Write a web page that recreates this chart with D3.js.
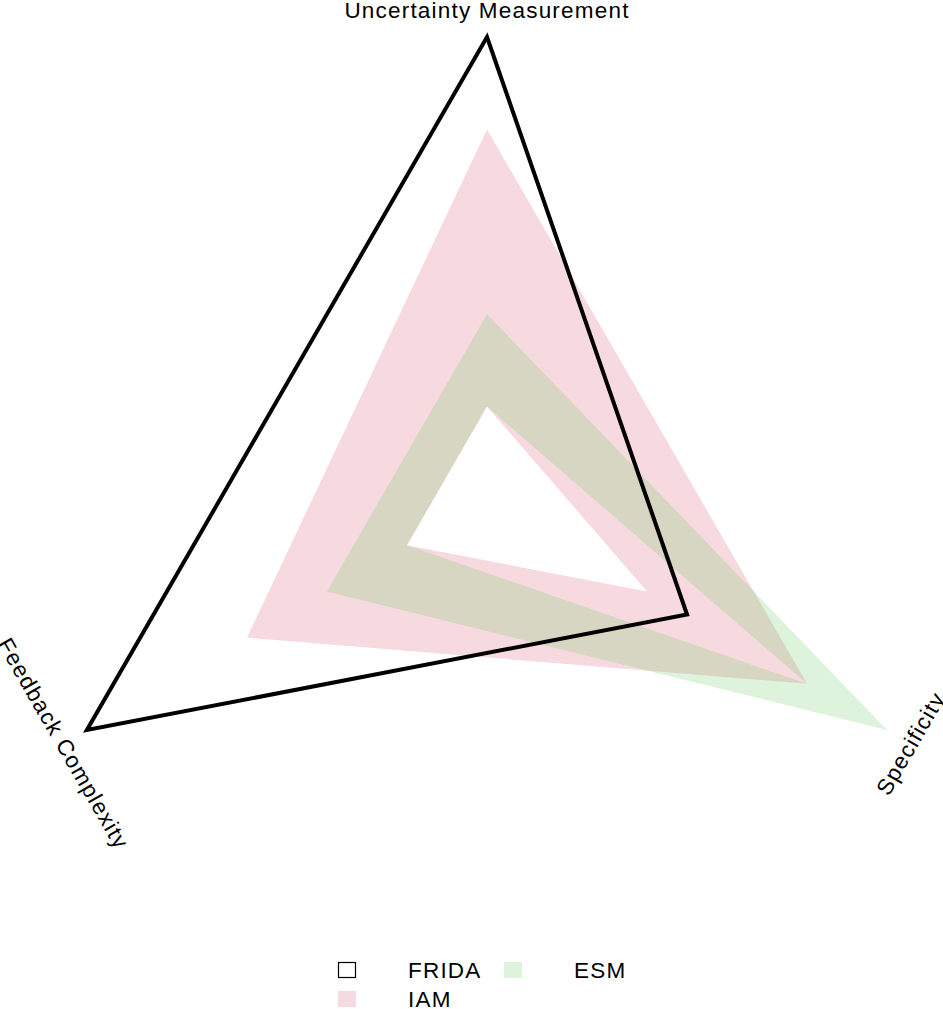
<!DOCTYPE html>
<html>
<head>
<meta charset="utf-8">
<script src="https://cdn.jsdelivr.net/npm/d3@7"></script>
<style>
  html, body { margin: 0; padding: 0; background: #fff; }
  svg { display: block; }
  text { font-family: "Liberation Sans", Arial, Helvetica, sans-serif; fill: #000; }
</style>
</head>
<body>
<svg id="chart" width="943" height="1009"></svg>
<script>
// ---- data ----
const categories = ["Uncertainty Measurement", "Specificity", "Feedback Complexity"];
const seriesNames = ["FRIDA", "IAM", "ESM"];
const fridaValues = [1.0, 0.5, 1.0];
const iamUpper = [0.8, 0.8, 0.6];
const iamLower = [0.2, 0.4, 0.2];
const esmUpper = [0.4, 1.0, 0.4];
const esmLower = [0.2, 0.8, 0.2];

// ---- layout ----
const cx = 487, cy = 499, R = 462;
const svg = d3.select("#chart");
const g = svg.append("g").attr("transform", `translate(${cx},${cy})`);

const angle = d3.scalePoint().domain(categories).range([0, 2 * Math.PI * (categories.length - 1) / categories.length]);
const r = d3.scaleLinear().domain([0, 1]).range([0, R]);

const radial = d3.lineRadial()
  .angle((d, i) => angle(categories[i]))
  .radius(d => r(d))
  .curve(d3.curveLinearClosed);

const colors = {
  FRIDA: "#000000",
  IAM: "rgba(223,107,131,0.25)",
  ESM: "rgba(100,200,91,0.22)"
};

// ribbons (outer polygon + inner hole)
function ribbon(upper, lower, fill) {
  g.append("path")
    .attr("d", radial(upper) + radial(lower))
    .attr("fill", fill)
    .attr("fill-rule", "evenodd")
    .attr("stroke", "none");
}
ribbon(iamUpper, iamLower, colors.IAM);
ribbon(esmUpper, esmLower, colors.ESM);

// FRIDA outline
g.append("path")
  .attr("d", radial(fridaValues))
  .attr("fill", "none")
  .attr("stroke", colors.FRIDA)
  .attr("stroke-width", 4)
  .attr("stroke-linejoin", "miter");

// axis labels
const labelR = 489;
const fontSize = 22.5, letterSp = 1.2;
categories.forEach((c, i) => {
  const a = angle(c);
  const x = labelR * Math.sin(a), y = -labelR * Math.cos(a);
  let rot = 0;
  if (i === 1) rot = -60;
  if (i === 2) rot = 60;
  g.append("text")
    .attr("transform", `translate(${x},${y}) rotate(${rot})`)
    .attr("text-anchor", "middle")
    .attr("y", 7.8)
    .attr("font-size", fontSize)
    .attr("letter-spacing", letterSp)
    .text(c);
});

// legend
const legend = svg.append("g");
const legendItems = [
  { name: seriesNames[0], x: 338, y: 962, fill: "#fff", stroke: "#000" },
  { name: seriesNames[1], x: 338, y: 991, fill: colors.IAM, stroke: "none" },
  { name: seriesNames[2], x: 504, y: 962, fill: colors.ESM, stroke: "none" }
];
legendItems.forEach(d => {
  const stroked = d.stroke !== "none";
  legend.append("rect")
    .attr("x", d.x + (stroked ? 0.5 : 0))
    .attr("y", d.y + (stroked ? 0.5 : 0))
    .attr("width", stroked ? 17 : 18)
    .attr("height", stroked ? 15 : 16)
    .attr("fill", d.fill)
    .attr("stroke", d.stroke)
    .attr("stroke-width", 1.2);
  legend.append("text")
    .attr("x", d.x + 70)
    .attr("y", d.y + 16)
    .attr("font-size", fontSize)
    .attr("letter-spacing", letterSp)
    .text(d.name);
});
</script>
</body>
</html>
